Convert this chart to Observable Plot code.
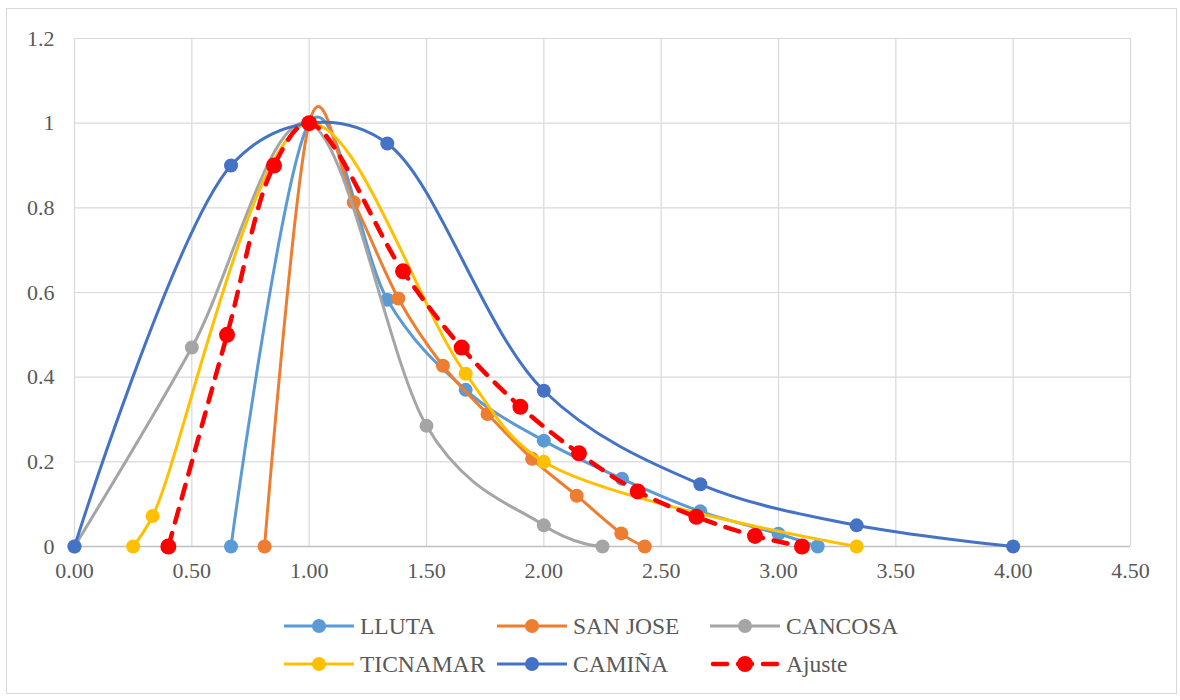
<!DOCTYPE html>
<html>
<head>
<meta charset="utf-8">
<script src="https://cdn.jsdelivr.net/npm/d3@7"></script>
<script src="https://cdn.jsdelivr.net/npm/@observablehq/plot@0.6"></script>
<style>
  html, body { margin: 0; padding: 0; background: #fff; }
  #wrap { position: relative; width: 1180px; height: 700px; overflow: hidden; font-family: "Liberation Serif", "Times New Roman", serif; }
  #frame { position: absolute; left: 6px; top: 8px; width: 1171px; height: 686px; border: 1px solid #D9D9D9; box-sizing: border-box; }
  #chart { position: absolute; left: 0; top: 0; }
  #chart svg text { font-family: "Liberation Serif", "Times New Roman", serif !important; font-size: 22px !important; fill: #595959; }
  #legend { position: absolute; left: 0; top: 600px; width: 1180px; height: 100px; }
  .item { position: absolute; display: flex; align-items: center; height: 30px; font-size: 23.5px; color: #595959; white-space: nowrap; font-family: "Liberation Serif", "Times New Roman", serif; }
  .item svg { margin-right: 6px; }
</style>
</head>
<body>
<div id="wrap">
  <div id="frame"></div>
  <div id="chart"></div>
  <div id="legend"></div>
</div>
<script>
// ---- data ----
const seriesNames = ["LLUTA", "SAN JOSE", "CANCOSA", "TICNAMAR", "CAMIÑA", "Ajuste"];
const seriesColors = ["#5B9BD5", "#ED7D31", "#A5A5A5", "#FFC000", "#4472C4", "#FF0000"];

const llutaX = [0.667, 1.0, 1.333, 1.667, 2.0, 2.333, 2.667, 3.0, 3.167];
const llutaY = [0, 1.0, 0.583, 0.37, 0.25, 0.16, 0.083, 0.03, 0];

const sanJoseX = [0.81, 1.0, 1.19, 1.38, 1.57, 1.76, 1.95, 2.14, 2.33, 2.43];
const sanJoseY = [0, 1.0, 0.813, 0.586, 0.427, 0.313, 0.207, 0.12, 0.031, 0];

const cancosaX = [0, 0.5, 1.0, 1.5, 2.0, 2.25];
const cancosaY = [0, 0.47, 1.0, 0.285, 0.05, 0];

const ticnamarX = [0.25, 0.333, 1.0, 1.667, 2.0, 3.333];
const ticnamarY = [0, 0.072, 1.0, 0.408, 0.2, 0];

const caminaX = [0, 0.667, 1.0, 1.333, 2.0, 2.667, 3.333, 4.0];
const caminaY = [0, 0.9, 1.0, 0.952, 0.368, 0.147, 0.05, 0];

const ajusteX = [0.4, 0.65, 0.85, 1.0, 1.4, 1.65, 1.9, 2.15, 2.4, 2.65, 2.9, 3.1];
const ajusteY = [0, 0.5, 0.9, 1.0, 0.65, 0.47, 0.33, 0.22, 0.13, 0.07, 0.025, 0];

const xTicks = [0, 0.5, 1, 1.5, 2, 2.5, 3, 3.5, 4, 4.5];
const yTicks = [0, 0.2, 0.4, 0.6, 0.8, 1, 1.2];

// ---- build ----
const allX = [llutaX, sanJoseX, cancosaX, ticnamarX, caminaX, ajusteX];
const allY = [llutaY, sanJoseY, cancosaY, ticnamarY, caminaY, ajusteY];
const curves = ["cardinal", "cardinal", "cardinal", "catmull-rom", "catmull-rom", "catmull-rom"];
const series = seriesNames.map((name, i) => ({
  name, color: seriesColors[i], curve: curves[i],
  data: allX[i].map((x, j) => ({x, y: allY[i][j]}))
}));

const marks = [
  Plot.gridX(xTicks, {stroke: "#D9D9D9", strokeOpacity: 1, strokeWidth: 1.2}),
  Plot.gridY(yTicks, {stroke: "#D9D9D9", strokeOpacity: 1, strokeWidth: 1.2}),
  Plot.ruleY([0], {stroke: "#BFBFBF", strokeWidth: 1.5}),
  Plot.axisX(xTicks, {tickSize: 0, tickPadding: 16, tickFormat: d3.format(".2f"), fontSize: 22, fill: "#595959", label: null}),
  Plot.axisY(yTicks, {tickSize: 0, tickPadding: 20, tickFormat: d => String(d), fontSize: 22, fill: "#595959", label: null})
];
series.forEach(s => {
  const isFit = s.name === "Ajuste";
  marks.push(Plot.line(s.data, {
    x: "x", y: "y", stroke: s.color, curve: s.curve,
    strokeWidth: isFit ? 4.5 : 3,
    strokeDasharray: isFit ? "14,11" : null,
    strokeLinecap: isFit ? "round" : "butt"
  }));
  marks.push(Plot.dot(s.data, {x: "x", y: "y", fill: s.color, r: isFit ? 8 : 7, stroke: "none"}));
});

const chart = Plot.plot({
  width: 1180, height: 600,
  marginLeft: 74, marginRight: 50, marginTop: 38, marginBottom: 54,
  style: {fontFamily: "Liberation Serif", background: "transparent", color: "#595959"},
  x: {domain: [0, 4.5]},
  y: {domain: [0, 1.2]},
  marks
});
document.getElementById("chart").appendChild(chart);

// ---- legend ----
const legend = document.getElementById("legend");
const colX = [284, 497, 710];
const rowY = [11, 49];
series.forEach((s, i) => {
  const isFit = s.name === "Ajuste";
  const div = document.createElement("div");
  div.className = "item";
  div.style.left = colX[i % 3] + "px";
  div.style.top = rowY[Math.floor(i / 3)] + "px";
  const line = isFit
    ? `<line x1="3" y1="15" x2="67" y2="15" stroke="${s.color}" stroke-width="4.5" stroke-dasharray="14,11" stroke-linecap="round"/>`
    : `<line x1="0" y1="15" x2="70" y2="15" stroke="${s.color}" stroke-width="3"/>`;
  div.innerHTML = `<svg width="70" height="30">${line}<circle cx="35" cy="15" r="${isFit ? 8 : 7}" fill="${s.color}"/></svg><span>${s.name}</span>`;
  legend.appendChild(div);
});
</script>
</body>
</html>
